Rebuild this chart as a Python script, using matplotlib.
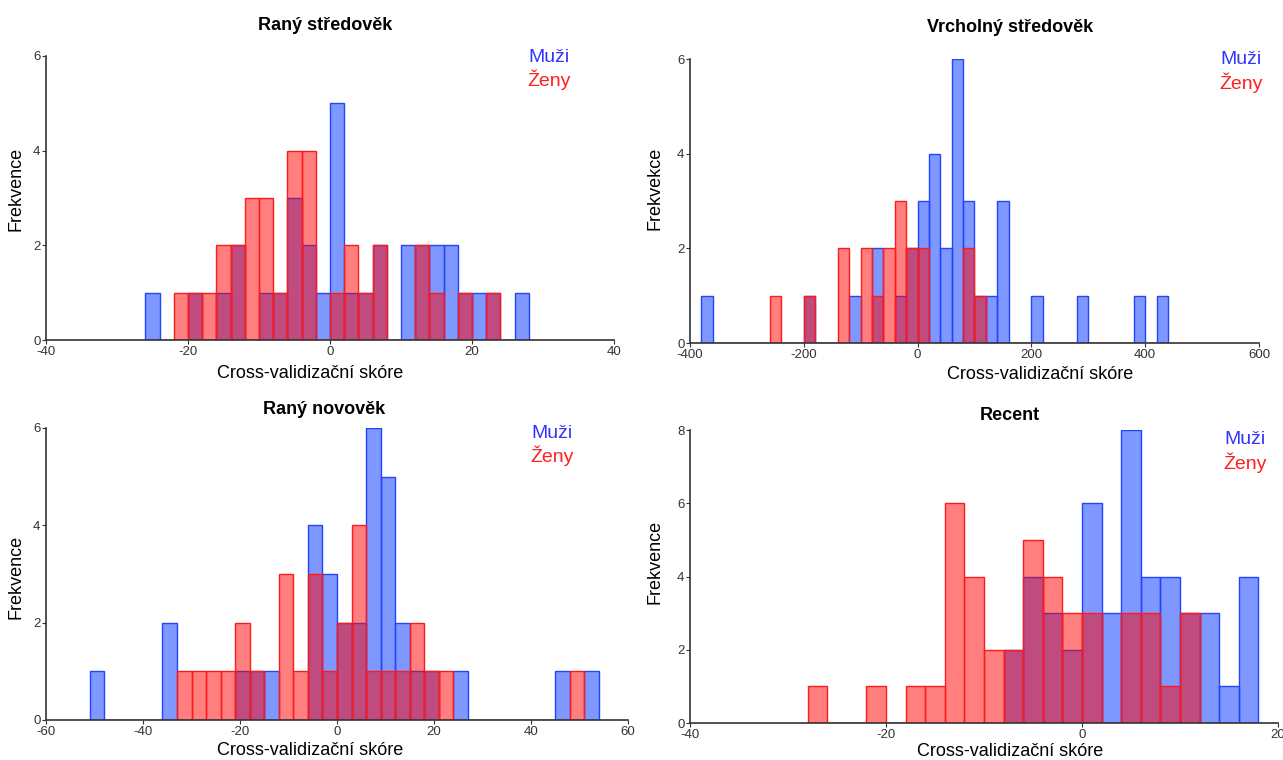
import numpy as np
import matplotlib
matplotlib.use("Agg")
import matplotlib.pyplot as plt

plt.rcParams["font.family"] = ["Liberation Sans", "DejaVu Sans"]
plt.rcParams["axes.unicode_minus"] = False

W, H = 1283, 760

# Data: left edge of each occupied bin and its count
# Raný středověk (bin width 2)
rs_edges = np.arange(-26, 30, 2)
rs_muzi_bins = [-26, -20, -16, -14, -10, -8, -6, -4, -2, 0, 2, 4, 6, 10, 12, 14, 16, 18, 20, 22, 26]
rs_muzi_counts = [1, 1, 1, 2, 1, 1, 3, 2, 1, 5, 1, 1, 2, 2, 2, 2, 2, 1, 1, 1, 1]
rs_zeny_bins = [-22, -20, -18, -16, -14, -12, -10, -8, -6, -4, 0, 2, 4, 6, 12, 14, 18, 22]
rs_zeny_counts = [1, 1, 1, 2, 2, 3, 3, 1, 4, 4, 1, 2, 1, 2, 2, 1, 1, 1]

# Vrcholný středověk (bin width 20)
vs_edges = np.arange(-380, 460, 20)
vs_muzi_bins = [-380, -200, -120, -80, -40, -20, 0, 20, 40, 60, 80, 100, 120, 140, 200, 280, 380, 420]
vs_muzi_counts = [1, 1, 1, 2, 1, 2, 3, 4, 2, 6, 3, 1, 1, 3, 1, 1, 1, 1]
vs_zeny_bins = [-260, -200, -140, -100, -80, -60, -40, -20, 0, 80, 100]
vs_zeny_counts = [1, 1, 2, 2, 1, 2, 3, 2, 2, 2, 1]

# Raný novověk (bin width 3)
rn_edges = np.arange(-51, 57, 3)
rn_muzi_bins = [-51, -36, -21, -18, -15, -6, -3, 0, 3, 6, 9, 12, 15, 18, 24, 45, 51]
rn_muzi_counts = [1, 2, 1, 1, 1, 4, 3, 2, 2, 6, 5, 2, 1, 1, 1, 1, 1]
rn_zeny_bins = [-33, -30, -27, -24, -21, -18, -12, -9, -6, -3, 0, 3, 6, 9, 12, 15, 18, 21, 48]
rn_zeny_counts = [1, 1, 1, 1, 2, 1, 3, 1, 3, 1, 2, 4, 1, 1, 1, 2, 1, 1, 1]

# Recent (bin width 2)
re_edges = np.arange(-28, 20, 2)
re_muzi_bins = [-8, -6, -4, -2, 0, 2, 4, 6, 8, 10, 12, 14, 16]
re_muzi_counts = [2, 4, 3, 2, 6, 3, 8, 4, 4, 3, 3, 1, 4]
re_zeny_bins = [-28, -22, -18, -16, -14, -12, -10, -8, -6, -4, -2, 0, 4, 6, 8, 10]
re_zeny_counts = [1, 1, 1, 1, 6, 4, 2, 2, 5, 4, 3, 3, 3, 3, 1, 3]

panels = [
    # title, ylabel, edges, muzi, zeny, xlim, xticks, ymax,
    # axes box (px), title xy, xlabel (x, offset below axis), ylabel (right edge x, centre y), legend xy
    ("Raný středověk", "Frekvence", rs_edges, (rs_muzi_bins, rs_muzi_counts), (rs_zeny_bins, rs_zeny_counts),
     (-40, 40), [-40, -20, 0, 20, 40], 6, (46, 56, 614, 340), (325, 25), (310, 25), (25, 189), (549, 57)),
    ("Vrcholný středověk", "Frekvekce", vs_edges, (vs_muzi_bins, vs_muzi_counts), (vs_zeny_bins, vs_zeny_counts),
     (-400, 600), [-400, -200, 0, 200, 400, 600], 6, (690, 59, 1259, 343), (1010, 27), (1040, 23), (664, 188), (1241, 60)),
    ("Raný novověk", "Frekvence", rn_edges, (rn_muzi_bins, rn_muzi_counts), (rn_zeny_bins, rn_zeny_counts),
     (-60, 60), [-60, -40, -20, 0, 20, 40, 60], 6, (46, 428, 628, 720), (324, 410), (310, 22), (25, 577), (552, 433)),
    ("Recent", "Frekvence", re_edges, (re_muzi_bins, re_muzi_counts), (re_zeny_bins, re_zeny_counts),
     (-40, 20), [-40, -20, 0, 20], 8, (690, 430, 1278, 723), (1010, 416), (1010, 20), (664, 562), (1245, 440)),
]

blue_face = (0.0, 0.2, 1.0, 0.5)
blue_edge = "#2244ff"
red_face = (1.0, 0.0, 0.0, 0.5)
red_edge = "#ff1a1a"

fig = plt.figure(figsize=(W / 100, H / 100), dpi=100)

for (title, ylabel, edges, muzi, zeny, xlim, xticks, ymax,
     box, title_xy, xlabel_pos, ylabel_xy, legend_xy) in panels:
    x0, y0, x1, y1 = box
    aw, ah = x1 - x0, y1 - y0
    ax = fig.add_axes([x0 / W, 1 - y1 / H, aw / W, ah / H])

    ax.hist(muzi[0], bins=edges, weights=muzi[1], facecolor=blue_face,
            edgecolor=blue_edge, linewidth=1.0)
    ax.hist(zeny[0], bins=edges, weights=zeny[1], facecolor=red_face,
            edgecolor=red_edge, linewidth=1.0)

    ax.set_xlim(*xlim)
    ax.set_ylim(0, ymax)
    ax.set_xticks(xticks)
    ax.set_yticks(range(0, ymax + 1, 2))

    for side in ["top", "right"]:
        ax.spines[side].set_visible(False)
    for side in ["left", "bottom"]:
        ax.spines[side].set_color("#333333")
        ax.spines[side].set_linewidth(1.2)

    ax.tick_params(length=3, width=0.8, color="#333333", pad=1,
                   labelsize=9.5, labelcolor="#333333")

    ax.set_ylabel(ylabel, fontsize=13)
    ax.yaxis.set_label_coords((ylabel_xy[0] - x0) / aw, (y1 - ylabel_xy[1]) / ah)

    ax.set_xlabel("Cross-validizační skóre", fontsize=13)
    ax.xaxis.set_label_coords((xlabel_pos[0] - x0) / aw, -xlabel_pos[1] / ah)

    fig.text(title_xy[0] / W, 1 - title_xy[1] / H, title, fontsize=13,
             fontweight="bold", ha="center", va="center")
    fig.text(legend_xy[0] / W, 1 - legend_xy[1] / H, "Muži", fontsize=14,
             color="#3333ff", ha="center", va="center")
    fig.text(legend_xy[0] / W, 1 - (legend_xy[1] + 23) / H, "Ženy", fontsize=14,
             color="#ff2020", ha="center", va="center")

fig.savefig("out.png", dpi=100, facecolor="white")
